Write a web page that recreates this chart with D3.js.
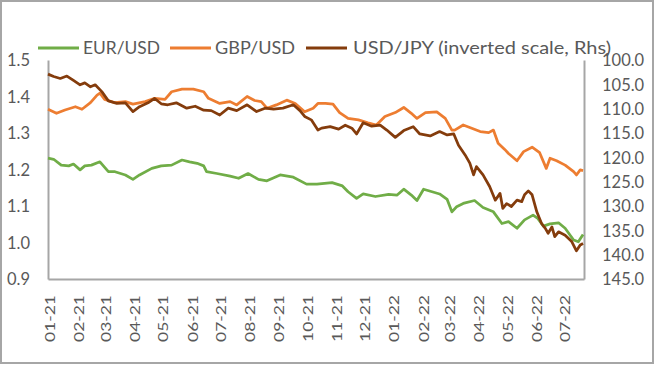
<!DOCTYPE html>
<html>
<head>
<meta charset="utf-8">
<script src="https://d3js.org/d3.v7.min.js"></script>
<style>
  body { margin: 0; background: #fff; }
  text { font-family: Lato, "Open Sans", sans-serif; fill: #595959; }
</style>
</head>
<body>
<script>
// EUR/USD (left axis)
var eurDates = ["2021-01-01","2021-01-07","2021-01-15","2021-01-23","2021-01-28","2021-02-04","2021-02-09","2021-02-16","2021-02-25","2021-03-06","2021-03-13","2021-03-24","2021-04-01","2021-04-08","2021-04-21","2021-05-01","2021-05-12","2021-05-23","2021-05-31","2021-06-08","2021-06-15","2021-06-18","2021-06-29","2021-07-13","2021-07-22","2021-08-01","2021-08-12","2021-08-21","2021-09-04","2021-09-18","2021-10-02","2021-10-13","2021-10-29","2021-11-09","2021-11-15","2021-11-24","2021-12-01","2021-12-14","2021-12-28","2022-01-06","2022-01-13","2022-01-21","2022-01-27","2022-02-03","2022-02-12","2022-02-20","2022-02-28","2022-03-05","2022-03-10","2022-03-17","2022-03-29","2022-04-07","2022-04-18","2022-04-27","2022-05-04","2022-05-13","2022-05-21","2022-05-30","2022-06-04","2022-06-10","2022-06-17","2022-06-26","2022-07-03","2022-07-12","2022-07-17","2022-07-22"];
var eurVals = [1.231,1.228,1.212,1.210,1.215,1.199,1.210,1.212,1.221,1.194,1.194,1.185,1.173,1.185,1.203,1.210,1.212,1.226,1.221,1.217,1.210,1.194,1.189,1.182,1.176,1.189,1.173,1.169,1.185,1.179,1.160,1.160,1.164,1.155,1.139,1.121,1.133,1.126,1.132,1.130,1.146,1.130,1.115,1.146,1.139,1.133,1.118,1.084,1.098,1.107,1.115,1.096,1.084,1.052,1.057,1.039,1.062,1.075,1.066,1.045,1.051,1.054,1.039,1.007,1.002,1.022];

// GBP/USD (left axis)
var gbpDates = ["2021-01-01","2021-01-10","2021-01-19","2021-01-30","2021-02-06","2021-02-15","2021-02-22","2021-02-25","2021-03-02","2021-03-13","2021-03-24","2021-04-01","2021-04-14","2021-04-24","2021-05-05","2021-05-12","2021-05-23","2021-06-04","2021-06-15","2021-06-20","2021-07-02","2021-07-13","2021-07-20","2021-07-31","2021-08-08","2021-08-15","2021-08-21","2021-08-31","2021-09-11","2021-09-20","2021-09-30","2021-10-09","2021-10-14","2021-10-22","2021-10-30","2021-11-06","2021-11-15","2021-11-26","2021-12-06","2021-12-15","2021-12-24","2022-01-04","2022-01-13","2022-01-21","2022-01-27","2022-02-05","2022-02-17","2022-02-26","2022-03-05","2022-03-08","2022-03-17","2022-03-26","2022-04-04","2022-04-13","2022-04-18","2022-04-23","2022-04-30","2022-05-04","2022-05-13","2022-05-20","2022-05-29","2022-06-06","2022-06-13","2022-06-17","2022-06-24","2022-07-03","2022-07-12","2022-07-15","2022-07-19","2022-07-22"];
var gbpVals = [1.365,1.354,1.363,1.372,1.365,1.383,1.404,1.409,1.392,1.383,1.386,1.379,1.386,1.395,1.392,1.413,1.420,1.420,1.413,1.395,1.381,1.386,1.377,1.400,1.389,1.386,1.368,1.377,1.390,1.381,1.358,1.368,1.381,1.381,1.379,1.356,1.340,1.336,1.328,1.322,1.345,1.356,1.370,1.354,1.340,1.356,1.358,1.340,1.308,1.308,1.322,1.313,1.304,1.301,1.308,1.272,1.255,1.244,1.224,1.249,1.261,1.246,1.203,1.231,1.224,1.212,1.194,1.185,1.199,1.197];

// USD/JPY (right axis, inverted)
var jpyDates = ["2021-01-01","2021-01-07","2021-01-14","2021-01-21","2021-01-28","2021-02-04","2021-02-09","2021-02-15","2021-02-20","2021-02-27","2021-03-06","2021-03-15","2021-03-24","2021-04-01","2021-04-08","2021-04-17","2021-04-24","2021-05-01","2021-05-08","2021-05-17","2021-05-24","2021-05-28","2021-06-06","2021-06-15","2021-06-23","2021-07-02","2021-07-11","2021-07-20","2021-07-31","2021-08-10","2021-08-19","2021-08-28","2021-09-07","2021-09-18","2021-09-25","2021-09-30","2021-10-07","2021-10-14","2021-10-18","2021-10-27","2021-11-05","2021-11-12","2021-11-19","2021-11-24","2021-12-01","2021-12-10","2021-12-19","2021-12-26","2022-01-04","2022-01-13","2022-01-23","2022-01-30","2022-02-10","2022-02-20","2022-02-28","2022-03-07","2022-03-12","2022-03-19","2022-03-24","2022-03-28","2022-03-31","2022-04-07","2022-04-14","2022-04-20","2022-04-25","2022-04-28","2022-05-02","2022-05-07","2022-05-13","2022-05-18","2022-05-21","2022-05-25","2022-05-29","2022-06-03","2022-06-08","2022-06-12","2022-06-15","2022-06-19","2022-06-22","2022-06-26","2022-07-03","2022-07-10","2022-07-15","2022-07-19","2022-07-22"];
var jpyVals = [102.9,103.4,103.8,103.3,104.2,105.1,104.7,105.5,105.1,106.5,108.4,108.9,108.8,110.6,109.6,108.8,107.9,109.0,109.2,108.8,109.5,109.9,109.5,110.3,110.4,111.3,109.9,110.4,109.2,110.6,109.9,110.1,109.9,109.2,110.4,111.6,112.3,114.4,114.0,113.7,114.2,113.4,114.0,115.2,112.9,113.6,113.4,114.4,115.9,114.5,113.7,115.2,115.6,114.7,115.4,115.2,117.5,119.5,121.2,123.6,121.9,123.6,126.0,128.8,127.4,130.5,129.5,130.1,128.8,129.1,127.7,126.9,127.7,131.2,133.6,134.6,135.6,134.3,136.3,135.3,136.0,137.3,139.2,138.0,137.7];

var leftTicks = [0.9, 1.0, 1.1, 1.2, 1.3, 1.4, 1.5];
var rightTicks = [100, 105, 110, 115, 120, 125, 130, 135, 140, 145];
var seriesNames = ["EUR/USD", "GBP/USD", "USD/JPY (inverted scale, Rhs)"];
var seriesColors = ["#70AD47", "#ED7D31", "#843C0C"];

var width = 656, height = 365;
var margin = {top: 60, left: 48, right: 72, bottom: 86};
var parse = d3.timeParse("%Y-%m-%d");

var svg = d3.select("body").append("svg")
  .attr("width", width)
  .attr("height", height);

// outer frame
svg.append("rect")
  .attr("x", 1).attr("y", 1)
  .attr("width", width - 4).attr("height", height - 3)
  .attr("fill", "#fff")
  .attr("stroke", "#a6a6a6")
  .attr("stroke-width", 2);

var x = d3.scaleTime()
  .domain([parse("2021-01-01"), parse("2022-07-23")])
  .range([margin.left, width - margin.right]);
var yL = d3.scaleLinear().domain([0.9, 1.5]).range([height - margin.bottom, margin.top]);
var yR = d3.scaleLinear().domain([100, 145]).range([margin.top, height - margin.bottom]);

// axes
var leftAxis = svg.append("g")
  .attr("transform", "translate(" + margin.left + ",0)")
  .call(d3.axisLeft(yL).tickValues(leftTicks).tickFormat(d3.format(".1f")).tickSize(0).tickPadding(18));
var rightAxis = svg.append("g")
  .attr("transform", "translate(" + (width - margin.right) + ",0)")
  .call(d3.axisRight(yR).tickValues(rightTicks).tickFormat(d3.format(".1f")).tickSize(0).tickPadding(18));
var months = d3.timeMonth.range(parse("2021-01-01"), parse("2022-07-02"));
var bottomAxis = svg.append("g")
  .attr("transform", "translate(0," + (height - margin.bottom) + ")")
  .call(d3.axisBottom(x).tickValues(months).tickFormat(d3.timeFormat("%m-%y")).tickSize(0));

[leftAxis, rightAxis, bottomAxis].forEach(function(g) {
  g.select(".domain").attr("stroke", "#a6a6a6").attr("stroke-width", 2);
  g.selectAll("text").attr("fill", "#595959").style("font-size", "16.5px");
});
leftAxis.selectAll("text").attr("dy", "0.36em");
rightAxis.selectAll("text").attr("dy", "0.36em");
bottomAxis.selectAll("text")
  .style("font-size", "13px")
  .attr("text-anchor", "end")
  .attr("transform", "translate(2,16) rotate(-90)")
  .attr("x", 0).attr("y", 0).attr("dy", "0.35em")
  .attr("textLength", 47)
  .attr("lengthAdjust", "spacingAndGlyphs");

// lines
function makeSeries(dates, vals) {
  return dates.map(function(d, i) { return {date: parse(d), value: vals[i]}; });
}
var lineL = d3.line().x(function(d) { return x(d.date); }).y(function(d) { return yL(d.value); });
var lineR = d3.line().x(function(d) { return x(d.date); }).y(function(d) { return yR(d.value); });

var data = [
  {pts: makeSeries(eurDates, eurVals), line: lineL},
  {pts: makeSeries(gbpDates, gbpVals), line: lineL},
  {pts: makeSeries(jpyDates, jpyVals), line: lineR}
];
data.forEach(function(s, i) {
  svg.append("path")
    .attr("d", s.line(s.pts))
    .attr("fill", "none")
    .attr("stroke", seriesColors[i])
    .attr("stroke-width", 2.75)
    .attr("stroke-linejoin", "round");
});

// legend
var legendX = [38, 170, 306];
var legendTextW = [77, 80, 258];
var legend = svg.append("g");
seriesNames.forEach(function(name, i) {
  legend.append("line")
    .attr("x1", legendX[i]).attr("x2", legendX[i] + 41)
    .attr("y1", 48).attr("y2", 48)
    .attr("stroke", seriesColors[i])
    .attr("stroke-width", 3);
  legend.append("text")
    .attr("x", legendX[i] + 45 + (i == 2 ? 2 : 0))
    .attr("y", 48)
    .attr("dy", "0.36em")
    .style("font-size", "17.5px")
    .attr("textLength", legendTextW[i])
    .attr("lengthAdjust", "spacingAndGlyphs")
    .text(name);
});
</script>
</body>
</html>
